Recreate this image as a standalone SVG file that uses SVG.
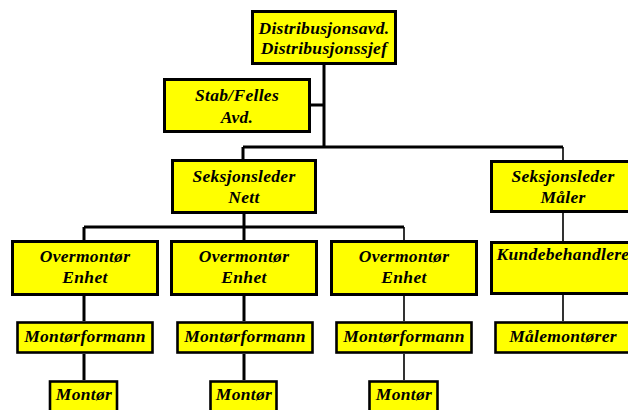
<svg xmlns="http://www.w3.org/2000/svg" width="628" height="410" viewBox="0 0 628 410">
  <style>
    .box { fill: #ffff00; stroke: #000; stroke-width: 3; }
    .sm { stroke-width: 2.6; }
    .lbl { font-family: "Liberation Serif", "Times New Roman", serif; font-weight: bold; font-style: italic; font-size: 17.5px; letter-spacing: 0.3px; fill: #000; text-anchor: middle; }
    .thick { stroke: #000; stroke-width: 3; fill: none; }
    .thin { stroke: #000; stroke-width: 1.6; fill: none; }
  </style>
  <rect width="628" height="410" fill="#fff"/>

  <g id="connectors">
    <path class="thick" d="M324 65 V147 M311 105 H324 M243 147 H563 M243 147 V159"/>
    <path class="thin" d="M563 147 V160"/>
    <path class="thick" d="M244 214 V227 M84 227 H404 M84 227 V240 M244 227 V240"/>
    <path class="thin" d="M404 227 V240 M563 213 V241"/>
    <path class="thick" d="M84 296 V321 M244 296 V321 M84 354 V380 M244 354 V380"/>
    <path class="thin" d="M404 296 V321 M563 295 V321 M404 354 V380"/>
  </g>

  <g id="distribusjon">
    <rect class="box" x="252.5" y="11.5" width="143" height="52"/>
    <text class="lbl" x="324" y="34">Distribusjonsavd.</text>
    <text class="lbl" x="324" y="54">Distribusjonssjef</text>
  </g>

  <g id="stab">
    <rect class="box" x="164.5" y="79.5" width="145" height="52"/>
    <text class="lbl" x="237" y="101">Stab/Felles</text>
    <text class="lbl" x="237" y="123">Avd.</text>
  </g>

  <g id="seksjon-nett">
    <rect class="box" x="172.5" y="160.5" width="143" height="52"/>
    <text class="lbl" x="244" y="182">Seksjonsleder</text>
    <text class="lbl" x="244" y="203">Nett</text>
  </g>

  <g id="seksjon-maler">
    <rect class="box" x="491.5" y="161.5" width="143" height="50"/>
    <text class="lbl" x="563" y="182">Seksjonsleder</text>
    <text class="lbl" x="563" y="203">Måler</text>
  </g>

  <g id="overmontor-1">
    <rect class="box" x="12.5" y="241.5" width="145" height="53"/>
    <text class="lbl" x="85" y="262">Overmontør</text>
    <text class="lbl" x="85" y="283">Enhet</text>
  </g>

  <g id="overmontor-2">
    <rect class="box" x="171.5" y="241.5" width="145" height="53"/>
    <text class="lbl" x="244" y="262">Overmontør</text>
    <text class="lbl" x="244" y="283">Enhet</text>
  </g>

  <g id="overmontor-3">
    <rect class="box" x="331.5" y="241.5" width="145" height="53"/>
    <text class="lbl" x="404" y="262">Overmontør</text>
    <text class="lbl" x="404" y="283">Enhet</text>
  </g>

  <g id="kundebehandlere">
    <rect class="box" x="491.5" y="242.5" width="143" height="51"/>
    <text class="lbl" x="563" y="260">Kundebehandlere</text>
  </g>

  <g id="montorformann-1">
    <rect class="box sm" x="17.5" y="322.5" width="135" height="30"/>
    <text class="lbl" x="85" y="342">Montørformann</text>
  </g>

  <g id="montorformann-2">
    <rect class="box sm" x="177.5" y="322.5" width="135" height="30"/>
    <text class="lbl" x="245" y="342">Montørformann</text>
  </g>

  <g id="montorformann-3">
    <rect class="box sm" x="336.5" y="322.5" width="135" height="30"/>
    <text class="lbl" x="404" y="342">Montørformann</text>
  </g>

  <g id="malemontorer">
    <rect class="box sm" x="495.5" y="322.5" width="135" height="30"/>
    <text class="lbl" x="563" y="342">Målemontører</text>
  </g>

  <g id="montor-1">
    <rect class="box sm" x="50" y="381.5" width="67" height="32"/>
    <text class="lbl" x="84" y="400">Montør</text>
  </g>

  <g id="montor-2">
    <rect class="box sm" x="210.5" y="381.5" width="66" height="32"/>
    <text class="lbl" x="244" y="400">Montør</text>
  </g>

  <g id="montor-3">
    <rect class="box sm" x="369.5" y="381.5" width="68" height="32"/>
    <text class="lbl" x="404" y="400">Montør</text>
  </g>
</svg>
